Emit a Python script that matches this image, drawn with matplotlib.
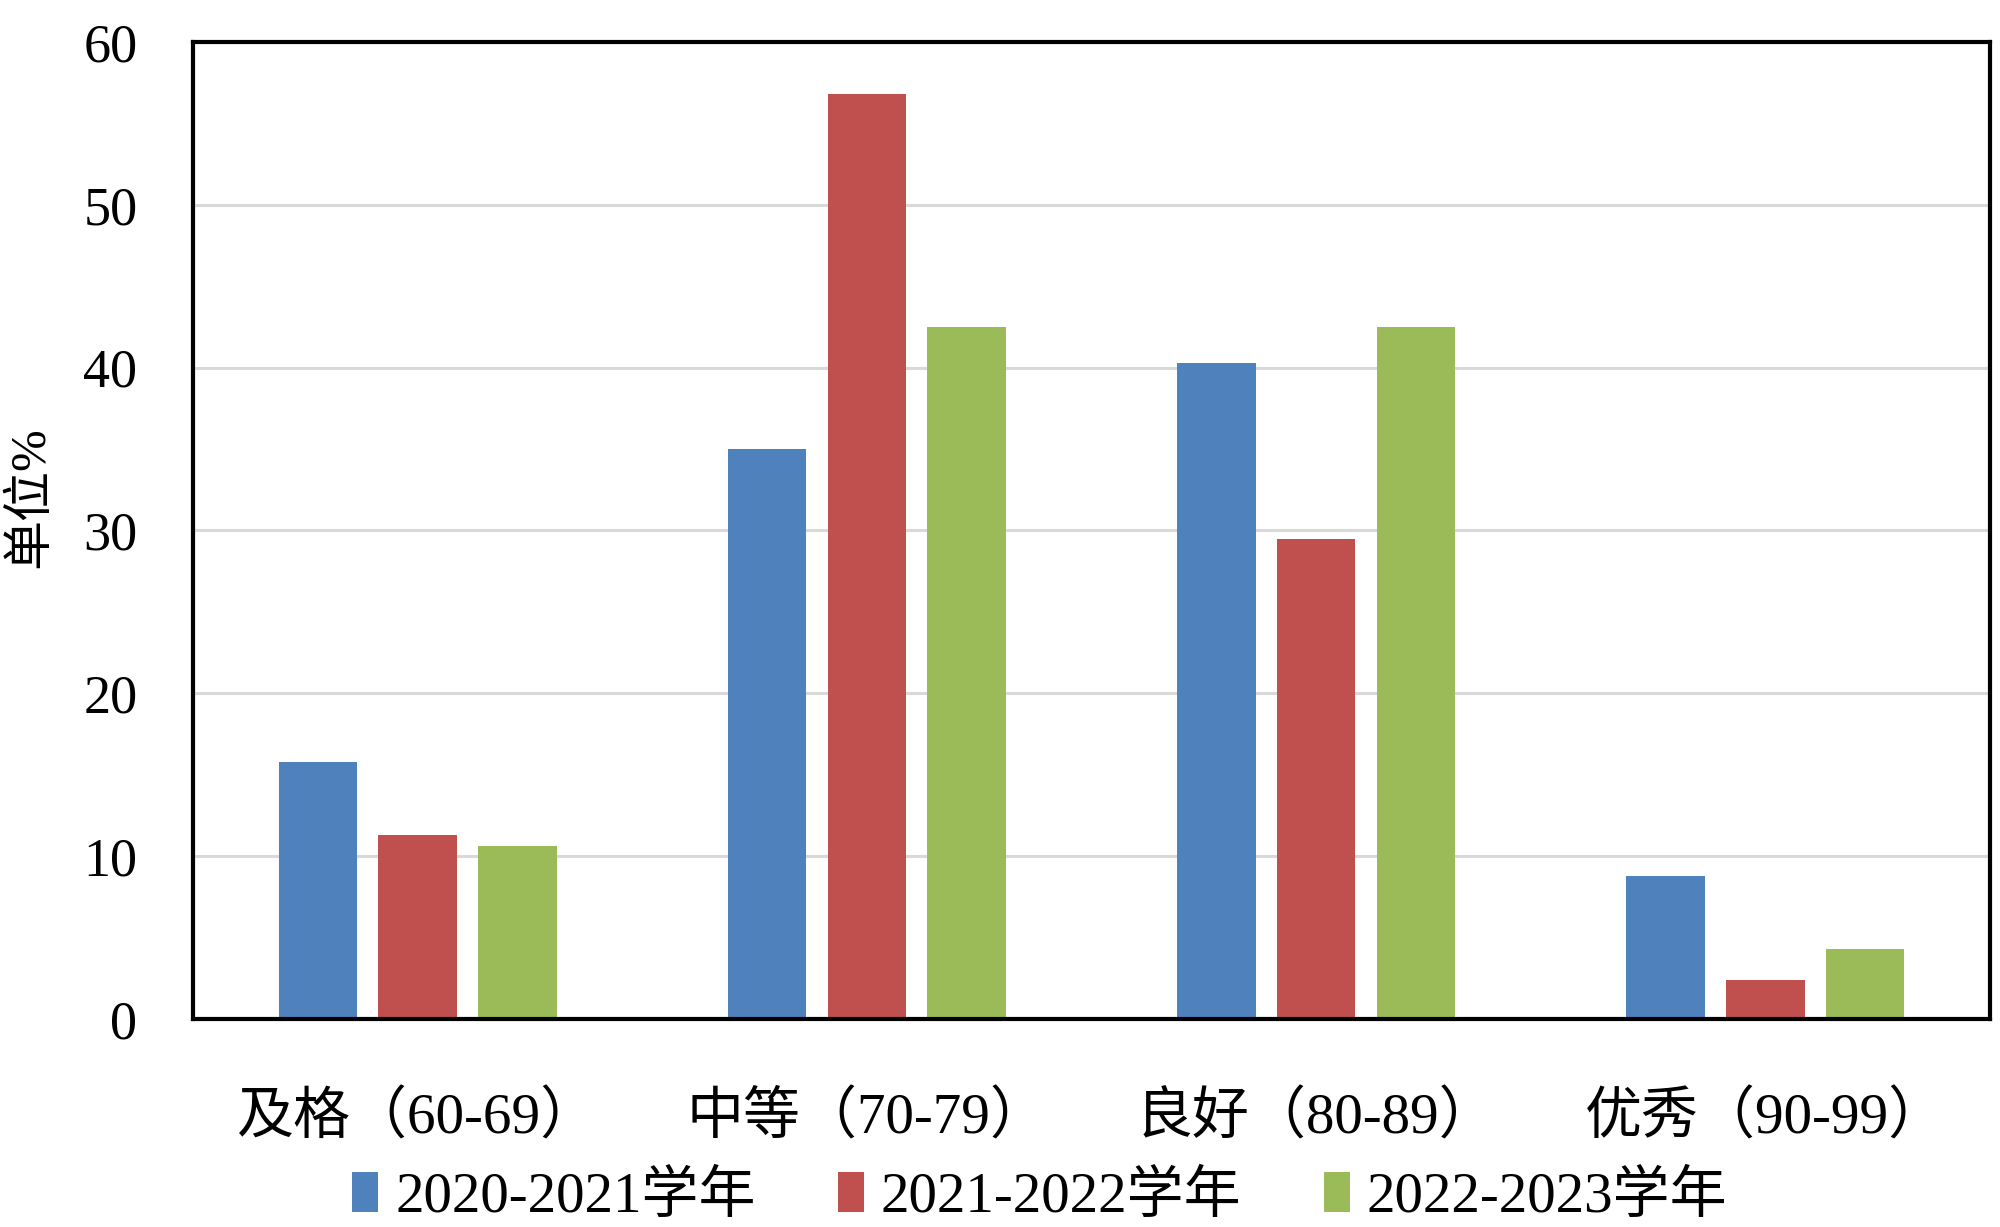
import matplotlib.pyplot as plt
import numpy as np

#===============================================================================
categories = ["及格（60-69）", "中等（70-79）", "良好（80-89）", "优秀（90-99）"]
years = ["2020-2021学年", "2021-2022学年", "2022-2023学年"]

values_2020 = [15.8, 35.0, 40.3, 8.8]
values_2021 = [11.3, 56.8, 29.5, 2.4]
values_2022 = [10.6, 42.5, 42.5, 4.3]

colors = ["#4F81BD", "#C0504D", "#9BBB59"]

y_ticks = [0, 10, 20, 30, 40, 50, 60]

#===============================================================================
plt.rcParams["font.family"] = ["Liberation Serif", "Noto Sans CJK SC"]

fig = plt.figure(figsize=(20, 12.27), dpi=100)
ax = fig.add_axes([0.0965, 0.1695, 0.8985, 0.7963])

x = np.arange(len(categories))
width = 0.175
step = 0.222

for i, (vals, label) in enumerate(zip([values_2020, values_2021, values_2022], years)):
    ax.bar(x + (i - 1) * step, vals, width, color=colors[i], label=label, zorder=3)

ax.set_xlim(-0.5, len(categories) - 0.5)
ax.set_ylim(0, 60)
ax.set_yticks(y_ticks)
ax.set_xticks(x)
ax.set_xticklabels(categories, fontsize=41)

ax.tick_params(axis="both", length=0)
ax.tick_params(axis="y", pad=40, labelsize=39)
ax.tick_params(axis="x", pad=52)

ax.yaxis.grid(True, color="#d9d9d9", linewidth=2.2, zorder=0)
ax.set_axisbelow(True)

for side in ["left", "right", "top", "bottom"]:
    ax.spines[side].set_linewidth(3)
    ax.spines[side].set_color("black")
    ax.spines[side].set_zorder(4)

ax.set_ylabel("单位%", fontsize=36)
ax.yaxis.set_label_coords(-0.077, 0.534)

leg = fig.legend(loc="center", bbox_to_anchor=(0.52, 0.024), ncol=3, frameon=False,
                 fontsize=41, handlelength=0.45, handleheight=0.7,
                 handletextpad=0.3, columnspacing=1.45)

fig.savefig("out.png", dpi=100)
